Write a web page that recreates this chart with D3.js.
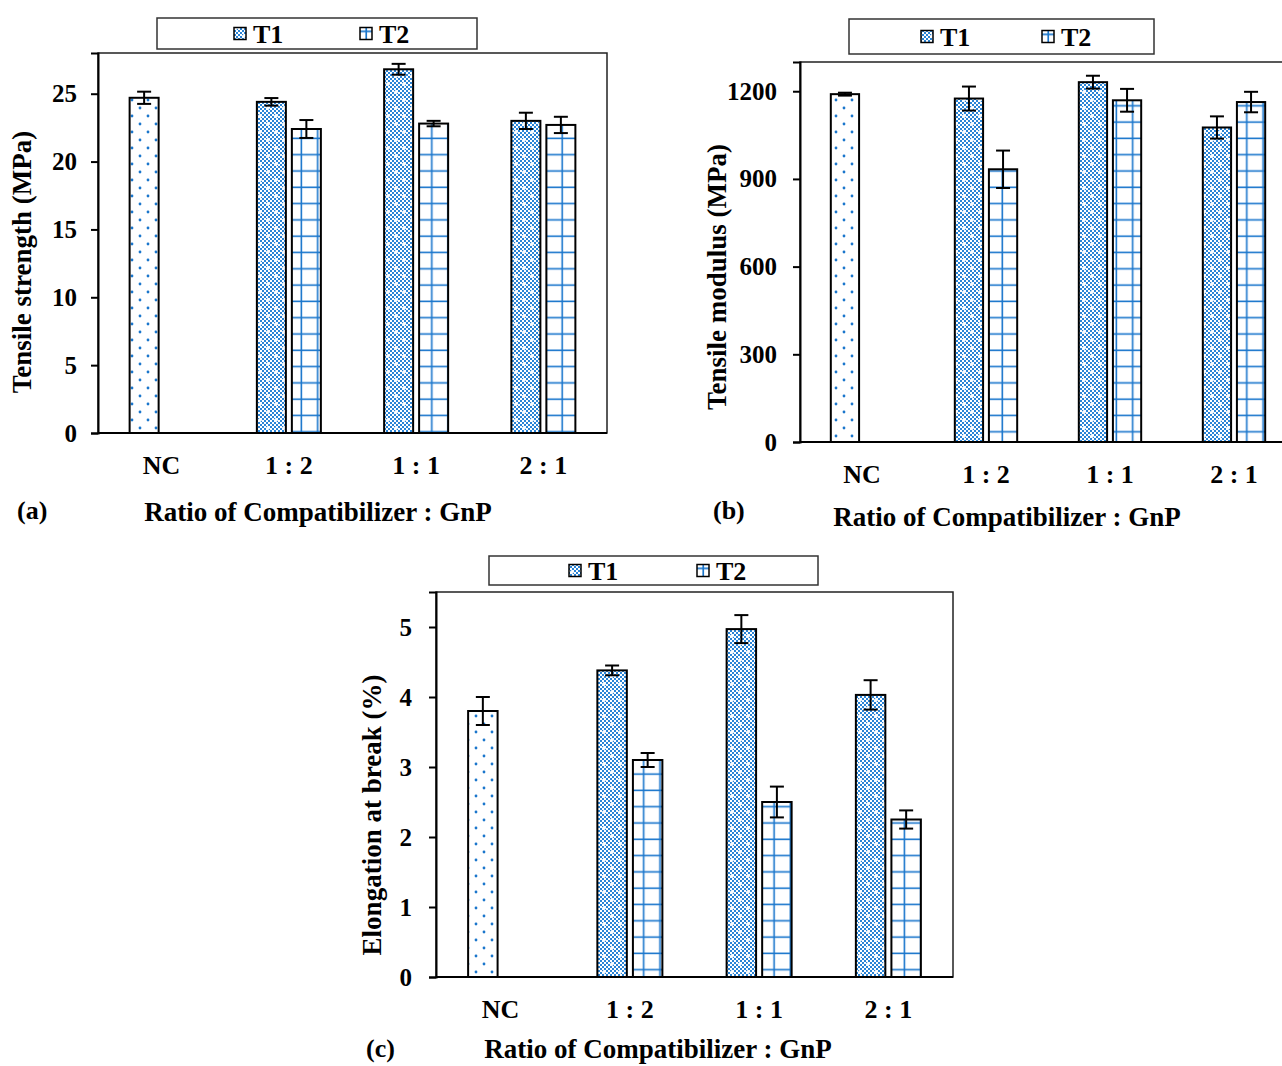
<!DOCTYPE html>
<html>
<head>
<meta charset="utf-8">
<script src="https://cdn.jsdelivr.net/npm/d3@7"></script>
<style>
  body { margin: 0; background: #fff; }
  svg { display: block; }
  text { font-family: "Liberation Serif", "Times New Roman", serif; font-weight: bold; fill: #000; }
</style>
</head>
<body>
<svg id="chart" width="1282" height="1066"></svg>
<script>
// categories and series
let categories = ['NC', '1 : 2', '1 : 1', '2 : 1'];
let seriesNames = ['T1', 'T2'];

// (a) tensile strength, MPa  (NC sits in the T1 slot)
let strengthT1 = [24.7, 24.4, 26.8, 23.0];
let strengthT1Err = [0.45, 0.28, 0.4, 0.6];
let strengthT2 = [null, 22.4, 22.8, 22.7];
let strengthT2Err = [null, 0.66, 0.2, 0.6];
let strengthTicks = [0, 5, 10, 15, 20, 25];

// (b) tensile modulus, MPa
let modulusT1 = [1190, 1175, 1231, 1076];
let modulusT1Err = [5, 41, 22, 38];
let modulusT2 = [null, 933, 1169, 1163];
let modulusT2Err = [null, 64, 39, 35];
let modulusTicks = [0, 300, 600, 900, 1200];

// (c) elongation at break, %
let elongT1 = [3.8, 4.38, 4.97, 4.03];
let elongT1Err = [0.2, 0.07, 0.2, 0.21];
let elongT2 = [null, 3.1, 2.5, 2.25];
let elongT2Err = [null, 0.1, 0.22, 0.13];
let elongTicks = [0, 1, 2, 3, 4, 5];

let blue = '#1a76cc';
let checkBlue = '#2a84d6';
let svg = d3.select('#chart');
let defs = svg.append('defs');

// NC: white with staggered blue dots
let dots = defs.append('pattern').attr('id', 'dots')
  .attr('patternUnits', 'userSpaceOnUse').attr('width', 16).attr('height', 16);
dots.append('rect').attr('width', 16).attr('height', 16).attr('fill', '#fff');
dots.append('circle').attr('cx', 4).attr('cy', 4).attr('r', 1.4).attr('fill', blue);
dots.append('circle').attr('cx', 12).attr('cy', 12).attr('r', 1.4).attr('fill', blue);

// T1: fine checker with white flecks
let checker = defs.append('pattern').attr('id', 'checkerBase')
  .attr('patternUnits', 'userSpaceOnUse').attr('width', 4).attr('height', 4);
checker.append('rect').attr('width', 4).attr('height', 4).attr('fill', '#fff');
checker.append('rect').attr('width', 2).attr('height', 2).attr('fill', checkBlue);
checker.append('rect').attr('x', 2).attr('y', 2).attr('width', 2).attr('height', 2).attr('fill', checkBlue);
let check = defs.append('pattern').attr('id', 'checker')
  .attr('patternUnits', 'userSpaceOnUse').attr('width', 16).attr('height', 16);
check.append('rect').attr('width', 16).attr('height', 16).attr('fill', 'url(#checkerBase)');
for (let p of [[4, 4], [12, 12]]) {
  check.append('rect').attr('x', p[0] - 2).attr('y', p[1] - 0.75).attr('width', 4).attr('height', 1.5).attr('fill', '#fff');
  check.append('rect').attr('x', p[0] - 0.75).attr('y', p[1] - 2).attr('width', 1.5).attr('height', 4).attr('fill', '#fff');
}

// T2: white with blue grid
let grid = defs.append('pattern').attr('id', 'grid')
  .attr('patternUnits', 'userSpaceOnUse').attr('width', 16.3).attr('height', 16.3);
grid.append('rect').attr('width', 16.3).attr('height', 16.3).attr('fill', '#fff');
grid.append('line').attr('x1', 8).attr('x2', 8).attr('y1', 0).attr('y2', 16.3)
  .attr('stroke', blue).attr('stroke-width', 1.6);
grid.append('line').attr('x1', 0).attr('x2', 16.3).attr('y1', 8).attr('y2', 8)
  .attr('stroke', blue).attr('stroke-width', 1.6);

// small swatch version of the grid for the legend
let gridKey = defs.append('pattern').attr('id', 'gridKey')
  .attr('patternUnits', 'objectBoundingBox').attr('width', 1).attr('height', 1)
  .attr('patternContentUnits', 'objectBoundingBox');
gridKey.append('rect').attr('width', 1).attr('height', 1).attr('fill', '#fff');
gridKey.append('rect').attr('x', 0.45).attr('y', 0).attr('width', 0.14).attr('height', 1).attr('fill', blue);
gridKey.append('rect').attr('x', 0).attr('y', 0.25).attr('width', 1).attr('height', 0.14).attr('fill', blue);

let panels = [
  {
    t1: strengthT1, t1Err: strengthT1Err, t2: strengthT2, t2Err: strengthT2Err,
    ticks: strengthTicks, yMax: 28, yTitle: 'Tensile strength (MPa)', tag: '(a)',
    left: 98, top: 53, right: 607, bottom: 433,
    tickRight: 77, yTitleX: 22, yTitleY: 262, catY: 474,
    tagX: 17, tagY: 519, xTitleX: 318, xTitleY: 521,
    legend: { x: 157, y: 18, w: 320, h: 31, t1: 234, t2: 360 }
  },
  {
    t1: modulusT1, t1Err: modulusT1Err, t2: modulusT2, t2Err: modulusT2Err,
    ticks: modulusTicks, yMax: 1300, yTitle: 'Tensile modulus (MPa)', tag: '(b)',
    left: 800, top: 62, right: 1296, bottom: 442,
    tickRight: 777, yTitleX: 717, yTitleY: 277, catY: 483,
    tagX: 713, tagY: 519, xTitleX: 1007, xTitleY: 526,
    legend: { x: 849, y: 19, w: 305, h: 35, t1: 921, t2: 1042 }
  },
  {
    t1: elongT1, t1Err: elongT1Err, t2: elongT2, t2Err: elongT2Err,
    ticks: elongTicks, yMax: 5.5, yTitle: 'Elongation at break (%)', tag: '(c)',
    left: 436, top: 592, right: 953, bottom: 977,
    tickRight: 412, yTitleX: 372, yTitleY: 815, catY: 1018,
    tagX: 366, tagY: 1057, xTitleX: 658, xTitleY: 1058,
    legend: { x: 489, y: 556, w: 329, h: 29, t1: 569, t2: 697 }
  }
];

for (let p of panels) {
  drawPanel(p);
}

function drawPanel(p) {
  let g = svg.append('g');

  let x = d3.scaleBand().domain(categories).range([p.left, p.right]).padding(0);
  let y = d3.scaleLinear().domain([0, p.yMax]).range([p.bottom, p.top]);

  let bw = x.bandwidth() * 0.228;
  let gap = x.bandwidth() * 0.047;

  // plot frame
  g.append('rect')
    .attr('x', p.left).attr('y', p.top)
    .attr('width', p.right - p.left).attr('height', p.bottom - p.top)
    .attr('fill', 'none').attr('stroke', '#222').attr('stroke-width', 1.5);

  // y axis
  let yAxis = g.append('g')
    .attr('transform', `translate(${p.left},0)`)
    .call(d3.axisLeft(y).tickValues(p.ticks).tickFormat(d3.format('d'))
      .tickSize(7).tickPadding(p.left - p.tickRight - 7));
  yAxis.select('.domain').attr('stroke', '#000').attr('stroke-width', 2);
  yAxis.selectAll('.tick line').attr('stroke', '#000').attr('stroke-width', 2);
  yAxis.selectAll('text').style('font-size', '25px').attr('fill', '#000');

  // bars
  let rows = [];
  for (let i = 0; i < categories.length; i++) {
    let c = categories[i];
    let cx = x(c) + x.bandwidth() / 2;
    rows.push({ x: cx - gap / 2 - bw, v: p.t1[i], e: p.t1Err[i], fill: i === 0 ? 'url(#dots)' : 'url(#checker)' });
    if (p.t2[i] != null) {
      rows.push({ x: cx + gap / 2, v: p.t2[i], e: p.t2Err[i], fill: 'url(#grid)' });
    }
  }

  g.selectAll('.bar').data(rows).enter()
    .append('rect')
    .attr('class', 'bar')
    .attr('x', (d) => d.x)
    .attr('y', (d) => y(d.v))
    .attr('width', bw)
    .attr('height', (d) => y(0) - y(d.v))
    .attr('fill', (d) => d.fill)
    .attr('stroke', '#000')
    .attr('stroke-width', 2);

  // error bars
  let err = g.selectAll('.err').data(rows).enter().append('g').attr('class', 'err');
  err.append('line')
    .attr('x1', (d) => d.x + bw / 2).attr('x2', (d) => d.x + bw / 2)
    .attr('y1', (d) => y(d.v + d.e)).attr('y2', (d) => y(d.v - d.e));
  err.append('line')
    .attr('x1', (d) => d.x + bw / 2 - 7).attr('x2', (d) => d.x + bw / 2 + 7)
    .attr('y1', (d) => y(d.v + d.e)).attr('y2', (d) => y(d.v + d.e));
  err.append('line')
    .attr('x1', (d) => d.x + bw / 2 - 7).attr('x2', (d) => d.x + bw / 2 + 7)
    .attr('y1', (d) => y(d.v - d.e)).attr('y2', (d) => y(d.v - d.e));
  err.selectAll('line').attr('stroke', '#000').attr('stroke-width', 2);

  // x axis line
  g.append('line')
    .attr('x1', p.left).attr('x2', p.right)
    .attr('y1', p.bottom).attr('y2', p.bottom)
    .attr('stroke', '#000').attr('stroke-width', 2);

  // category labels
  g.selectAll('.cat').data(categories).enter()
    .append('text')
    .attr('class', 'cat')
    .attr('x', (d) => x(d) + x.bandwidth() / 2)
    .attr('y', p.catY)
    .attr('text-anchor', 'middle')
    .style('font-size', '26px')
    .text((d) => d);

  // y title
  g.append('text')
    .attr('transform', `translate(${p.yTitleX},${p.yTitleY}) rotate(-90)`)
    .attr('text-anchor', 'middle')
    .attr('dy', '0.35em')
    .style('font-size', '27px')
    .text(p.yTitle);

  // x title + tag
  g.append('text')
    .attr('x', p.xTitleX).attr('y', p.xTitleY)
    .attr('text-anchor', 'middle')
    .style('font-size', '27px')
    .text('Ratio of Compatibilizer : GnP');

  g.append('text')
    .attr('x', p.tagX).attr('y', p.tagY)
    .style('font-size', '26px')
    .text(p.tag);

  // legend
  let L = p.legend;
  let lg = g.append('g');
  lg.append('rect')
    .attr('x', L.x).attr('y', L.y).attr('width', L.w).attr('height', L.h)
    .attr('fill', '#fff').attr('stroke', '#333').attr('stroke-width', 1.5);
  let items = [
    { name: seriesNames[0], x: L.t1, fill: 'url(#checker)' },
    { name: seriesNames[1], x: L.t2, fill: 'url(#gridKey)' }
  ];
  for (let it of items) {
    let cy = L.y + L.h / 2;
    lg.append('rect')
      .attr('x', it.x).attr('y', cy - 6).attr('width', 12).attr('height', 12)
      .attr('fill', it.fill).attr('stroke', '#000').attr('stroke-width', 1.5);
    lg.append('text')
      .attr('x', it.x + 19).attr('y', cy)
      .attr('dy', '0.35em')
      .style('font-size', '26px')
      .text(it.name);
  }
}
</script>
</body>
</html>
